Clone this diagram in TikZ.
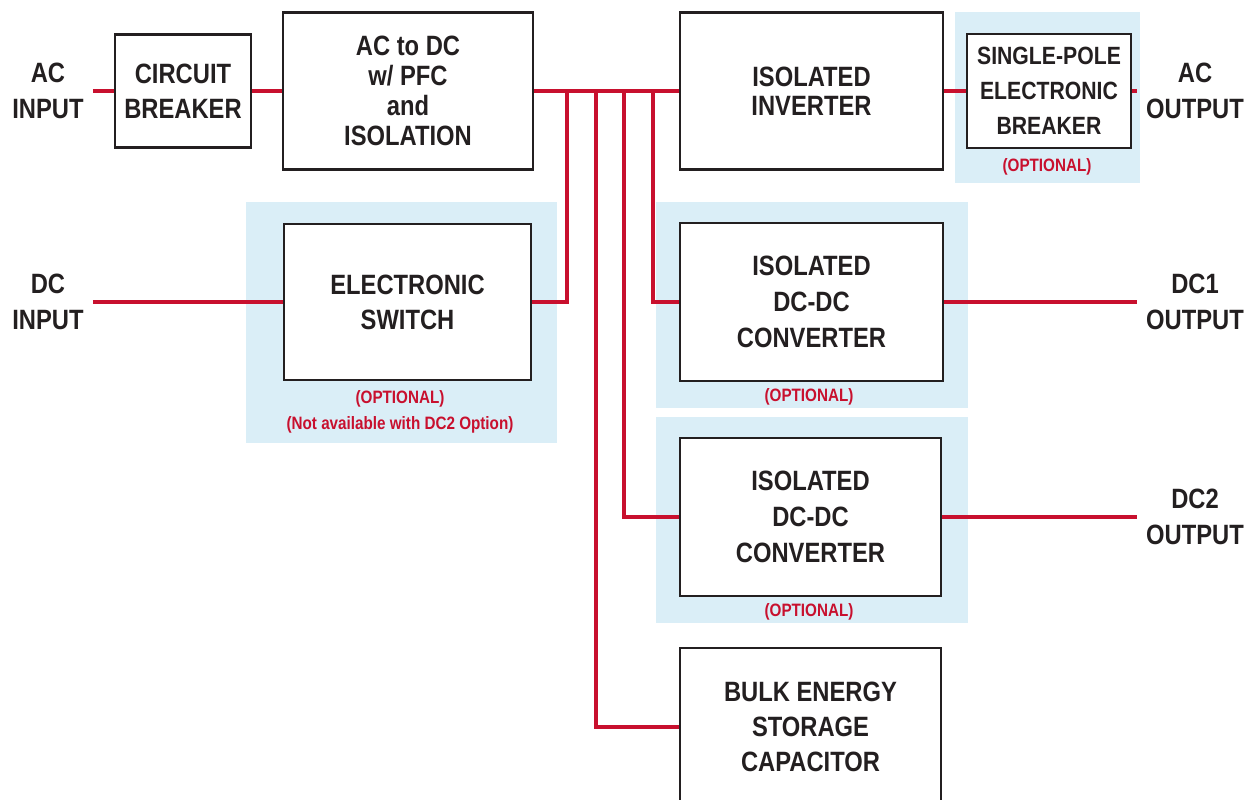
\documentclass[tikz,border=0pt]{standalone}
\usepackage{fontspec}
\newfontfamily\diagfont[FakeStretch=0.85]{Liberation Sans}
\definecolor{wirered}{RGB}{200,16,46}
\definecolor{panelblue}{RGB}{218,238,247}
\definecolor{inkgray}{RGB}{35,31,32}
\tikzset{
  wire/.style={wirered, line width=1.9pt},
  panel/.style={fill=panelblue, draw=none},
  block/.style={draw=inkgray, line width=1.2pt, fill=white, inner sep=0pt, align=center,
    text=inkgray, font=\diagfont\bfseries\fontsize{15.9}{19.8}\selectfont},
  io/.style={inner sep=5pt, align=center, text=inkgray,
    font=\diagfont\bfseries\fontsize{15.9}{20.4}\selectfont},
  optlabel/.style={inner sep=1pt, text=wirered, font=\diagfont\bfseries\fontsize{10.2}{12}\selectfont},
}
\begin{document}
\begin{tikzpicture}[x=0.02cm, y=-0.02cm]
\useasboundingbox (0,0) rectangle (1255,800);
\clip (0,0) rectangle (1255,800);
% Optional panels
    \fill[panel] (955,12) rectangle (1140,183);
    \fill[panel] (246,202) rectangle (557,443);
    \fill[panel] (656,202) rectangle (968,408);
    \fill[panel] (656,417) rectangle (968,623);
% Inputs and outputs
    \node[io] (acin) at (48,91) {AC\\INPUT};
    \node[io] (dcin) at (48,302) {DC\\INPUT};
    \node[io] (acout) at (1195,91) {AC\\OUTPUT};
    \node[io] (dc1out) at (1195,302) {DC1\\OUTPUT};
    \node[io] (dc2out) at (1195,517) {DC2\\OUTPUT};
% Blocks
    \node[block, minimum width=2.72cm, minimum height=2.26cm] (breaker) at (183,91) {CIRCUIT\\BREAKER};
    \node[block, minimum width=5cm, minimum height=3.14cm,
      font=\diagfont\bfseries\fontsize{15.9}{17}\selectfont] (acdc) at (408,91) {AC to DC\\w/ PFC\\and\\ISOLATION};
    \node[block, minimum width=5.26cm, minimum height=3.14cm,
      font=\diagfont\bfseries\fontsize{15.9}{16.4}\selectfont] (inverter) at (811.5,91) {ISOLATED\\INVERTER};
    \node[block, minimum width=3.28cm, minimum height=2.28cm,
      font=\diagfont\bfseries\fontsize{14.2}{19.8}\selectfont] (spbreaker) at (1049,91) {SINGLE-POLE\\ELECTRONIC\\BREAKER};
    \node[block, minimum width=4.94cm, minimum height=3.12cm] (eswitch) at (407.5,302) {ELECTRONIC\\SWITCH};
    \node[block, minimum width=5.26cm, minimum height=3.16cm,
      font=\diagfont\bfseries\fontsize{15.9}{20.4}\selectfont] (dcdc1) at (811.5,302) {ISOLATED\\DC-DC\\CONVERTER};
    \node[block, minimum width=5.22cm, minimum height=3.16cm,
      font=\diagfont\bfseries\fontsize{15.9}{20.4}\selectfont] (dcdc2) at (810.5,517) {ISOLATED\\DC-DC\\CONVERTER};
    \node[block, minimum width=5.22cm, minimum height=3.16cm] (bulk) at (810.5,727) {BULK ENERGY\\STORAGE\\CAPACITOR};
% Optional labels
    \node[optlabel] (spopt) at (1047,167) {(OPTIONAL)};
    \node[optlabel] (swopt) at (400,399) {(OPTIONAL)};
    \node[optlabel] (swnote) at (400,425) {(Not available with DC2 Option)};
    \node[optlabel] (dc1opt) at (809,397) {(OPTIONAL)};
    \node[optlabel] (dc2opt) at (809,612) {(OPTIONAL)};
% AC path
    \draw[wire] (acin) -- (breaker);
    \draw[wire] (breaker) -- (acdc);
    \draw[wire] (acdc) -- (inverter);
    \draw[wire] (inverter) -- (spbreaker);
    \draw[wire] (spbreaker) -- (acout);
% DC bus taps
    \path (acdc.east) ++(33,0) coordinate (tapS) ++(29,0) coordinate (tapB)
      ++(28,0) coordinate (tapL) ++(29,0) coordinate (tapU);
    \draw[wire] (dcin) -- (eswitch);
    \draw[wire] (tapS) |- (eswitch);
    \draw[wire] (tapU) |- (dcdc1);
    \draw[wire] (tapL) |- (dcdc2);
    \draw[wire] (tapB) |- (bulk);
% DC outputs
    \draw[wire] (dcdc1) -- (dc1out);
    \draw[wire] (dcdc2) -- (dc2out);
\end{tikzpicture}
\end{document}
